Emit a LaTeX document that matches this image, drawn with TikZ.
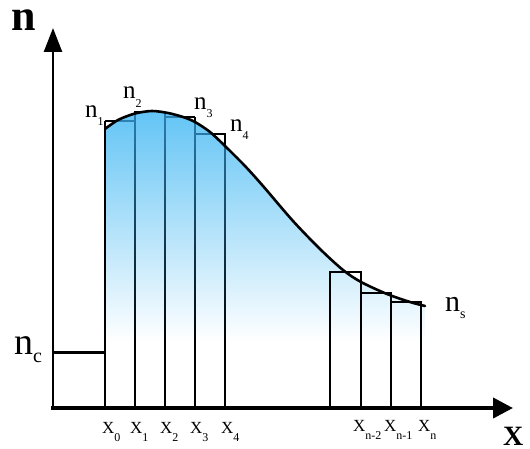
\documentclass[tikz,border=0pt]{standalone}
\usepackage{fontspec}
\setmainfont{Liberation Serif}
\usetikzlibrary{arrows.meta}
\definecolor{fillblue}{RGB}{98,196,245}
\definecolor{linetop}{RGB}{45,128,178}
\newcommand{\lowsub}[3]{\raisebox{-#1pt}{\fontsize{#2}{#2}\selectfont #3}}
\begin{document}
\begin{tikzpicture}[x=1pt,y=-1pt,
  thinline/.style={line width=1.6pt},
  lab/.style={anchor=base west, inner sep=0pt, outer sep=0pt},
  nlab/.style={lab, font=\fontsize{25}{25}\selectfont},
  xlab/.style={lab, font=\fontsize{17}{17}\selectfont}]
\useasboundingbox (0,0) rectangle (530,449);
% named coordinates
\coordinate (O) at (53,408);
\coordinate (ytip) at (53,28);
\coordinate (xstart) at (51,408);
\coordinate (xtip) at (513,408);
% left group of strips (black)
\draw[thinline] (105,408) -- (105,352);
\draw[thinline] (105,121) -- (135,121);
\draw[thinline] (135,408) -- (135,112) -- (165,112);
\draw[thinline] (165,408) -- (165,112);
\draw[thinline] (165,117) -- (195,117);
\draw[thinline] (195,408) -- (195,117);
\draw[thinline] (195,134) -- (225,134) -- (225,408);
% shaded area under the curve
\begin{scope}
  \clip (105,408) -- plot[smooth] coordinates {(105,129) (118,120) (135,113.5) (152,111) (168,113) (183,117) (195,122) (210,132) (225,146) (245,166) (263,186) (293,221) (320,249) (343,270) (361,282) (387,294) (410,302) (425,306)} -- (425,408) -- cycle;
  \shade[top color=fillblue, bottom color=white] (100,110) rectangle (430,342);
  % strip lines seen through the tint
  \foreach \xx in {135,165,195,225}
    \shade[top color=linetop, bottom color=black] (\xx-0.8,110) rectangle (\xx+0.8,342);
  \draw[thinline, linetop] (105,121) -- (135,121);
  \draw[thinline, linetop] (165,117) -- (195,117);
  \draw[thinline, linetop!92!black] (195,134) -- (225,134);
\end{scope}
\draw[line width=2.6pt] (105,352) -- (105,121);
% right group of strips
\draw[thinline] (330,408) rectangle (361,272);
\draw[thinline] (361,408) rectangle (391,293);
\draw[thinline] (391,408) rectangle (421,302);
% curve
\draw[line width=2.6pt, line cap=round] plot[smooth] coordinates {(105,129) (118,120) (135,113.5) (152,111) (168,113) (183,117) (195,122) (210,132) (225,146) (245,166) (263,186) (293,221) (320,249) (343,270) (361,282) (387,294) (410,302) (425,306)};
% n_c level
\draw[line width=3pt] (O |- 0,352) -- (105,352);
% axes
\draw[line width=2.5pt, -{Triangle[length=24pt,width=18pt]}] (O) -- (ytip);
\draw[line width=4pt, -{Triangle[length=20pt,width=20pt]}] (xstart) -- (xtip);
% axis labels
\node[lab, font=\fontsize{44}{44}\selectfont\bfseries, text height=21pt] (nax) at (11,31) {n};
\node[lab, font=\fontsize{28}{28}\selectfont\bfseries, text height=19pt, text depth=0pt] (xax) at (503,445) {X};
% n labels
\node[nlab] (n1) at (85,118) {n\lowsub{8}{12}{1}};
\node[nlab] (n2) at (123,99) {n\lowsub{9}{12}{2}};
\node[nlab] (n3) at (194,110) {n\lowsub{8}{12}{3}};
\node[nlab] (n4) at (230,132) {n\lowsub{8}{12}{4}};
\node[lab, font=\fontsize{38}{38}\selectfont] (nc) at (14,354) {n\lowsub{8}{20}{c}};
\node[lab, font=\fontsize{30}{30}\selectfont] (ns) at (445,311) {n\lowsub{7}{14}{s}};
% x labels
\node[xlab] (x0) at (102,433) {X\lowsub{8}{12}{0}};
\node[xlab] (x1) at (130,433) {X\lowsub{8}{12}{1}};
\node[xlab] (x2) at (160,433) {X\lowsub{8}{12}{2}};
\node[xlab] (x3) at (190,433) {X\lowsub{8}{12}{3}};
\node[xlab] (x4) at (221,433) {X\lowsub{8}{12}{4}};
\node[xlab] (xn2) at (353,431) {X\lowsub{8}{12}{n-2}};
\node[xlab] (xn1) at (384,431) {X\lowsub{8}{12}{n-1}};
\node[xlab] (xn) at (418,431) {X\lowsub{8}{12}{n}};
\end{tikzpicture}
\end{document}
